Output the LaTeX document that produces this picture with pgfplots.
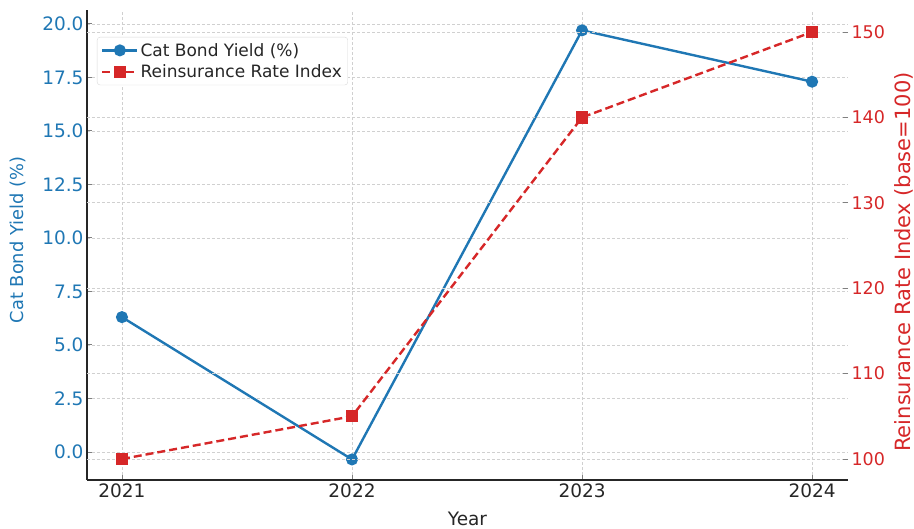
\documentclass[border=0pt]{standalone}
\usepackage{fontspec}
\setmainfont{DejaVu Sans}
\usepackage{pgfplots}
\pgfplotsset{compat=1.18}
\definecolor{tblue}{HTML}{1F77B4}
\definecolor{tred}{HTML}{D62728}
\definecolor{gridc}{HTML}{D0D0D0}
\begin{document}
\begin{tikzpicture}
\pgfplotsset{
  base/.style={
    at={(0,0)}, anchor=south west,
    scale only axis, width=761pt, height=470pt,
    xmin=2020.848, xmax=2024.156,
    /pgf/number format/assume math mode=true,
    tick align=inside, major tick length=5pt,
    grid style={dash pattern=on 3pt off 2pt, gridc, line width=0.7pt},
    tick style={line width=0.9pt},
  }
}
\begin{axis}[base,
  axis x line*=bottom, axis y line*=left,
  axis line style={line width=1.3pt, black!85},
  ymin=-1.31, ymax=20.65,
  xtick={2021,2022,2023,2024},
  xticklabels={2021,2022,2023,2024},
  ytick={0,2.5,5,7.5,10,12.5,15,17.5,20},
  yticklabel style={/pgf/number format/.cd,fixed,fixed zerofill,precision=1,
    /tikz/.cd, text=tblue, font=\fontsize{18.5}{20}\selectfont},
  xticklabel style={text=black!85, font=\fontsize{18.5}{20}\selectfont},
  xmajorgrids, ymajorgrids,
  xlabel={Year},
  every axis x label/.style={at={(axis description cs:0.5,0)}, anchor=center, yshift=-39pt, font=\fontsize{18.5}{20}\selectfont, text=black!85},
  ylabel={Cat Bond Yield (\%)},
  every axis y label/.style={at={(axis description cs:-0.0906,0.5106)}, rotate=90, anchor=center, font=\fontsize{17.8}{20}\selectfont, text=tblue},
]
\addplot[tblue, line width=2.4pt, mark=*, mark size=4.8pt, mark options={fill=tblue, draw=tblue}]
  coordinates {(2021,6.3) (2022,-0.35) (2023,19.7) (2024,17.3)};
\end{axis}
\begin{axis}[base,
  axis x line=none, axis y line*=right,
  y axis line style={draw=none},
  ymin=97.54, ymax=152.58,
  ytick={100,110,120,130,140,150},
  yticklabel style={text=tred, font=\fontsize{17.5}{20}\selectfont},
  ymajorgrids,
  ylabel={Reinsurance Rate Index (base=100)},
  every axis y label/.style={at={(axis description cs:1.0735,0.4638)}, rotate=90, anchor=center, font=\fontsize{21}{22}\selectfont, text=tred},
  legend style={at={(0.0131,0.9426)}, anchor=north west, draw=black!15, fill=white, rounded corners=3pt, font=\fontsize{17}{20}\selectfont, text=black!85, inner xsep=4pt, inner ysep=4pt, row sep=3pt},
  legend cell align=left,
  legend image code/.code={\draw[#1, mark repeat=2, mark phase=2] plot coordinates {(0pt,0pt) (17.5pt,0pt) (35pt,0pt)};},
]
\addlegendimage{tblue, line width=2.4pt, mark=*, mark size=4.8pt, mark options={fill=tblue, draw=tblue}}
\addlegendentry{Cat Bond Yield (\%)}
\addplot[tred, line width=2.4pt, dash pattern=on 8pt off 4pt, mark=square*, mark size=5pt, mark options={solid, fill=tred, draw=tred}]
  coordinates {(2021,100) (2022,105) (2023,140) (2024,150)};
\addlegendentry{Reinsurance Rate Index}
\end{axis}
\pgfresetboundingbox
\path[use as bounding box] (-87pt,-49pt) rectangle (827pt,480pt);
\end{tikzpicture}
\end{document}
